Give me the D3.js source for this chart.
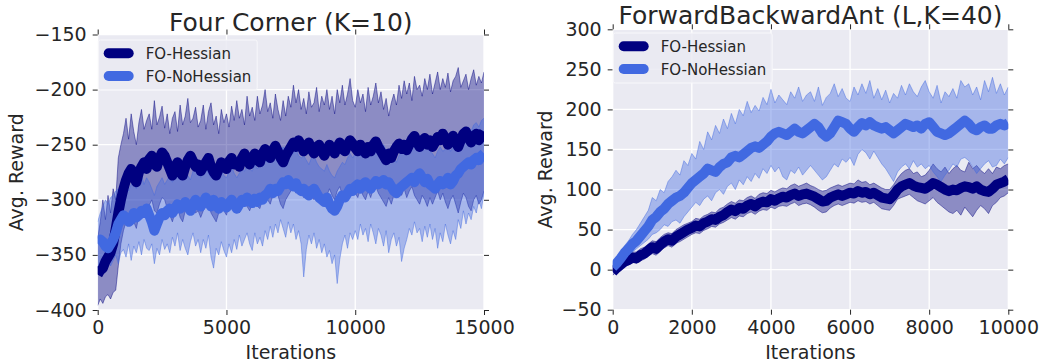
<!DOCTYPE html>
<html>
<head>
<meta charset="utf-8">
<script src="https://cdn.jsdelivr.net/npm/d3@7/dist/d3.min.js"></script>
<style>
  body { margin: 0; background: #ffffff; }
  text { font-family: "DejaVu Sans", sans-serif; fill: #262626; }
</style>
</head>
<body>
<div class="chart"></div>
<script>
// series names
var seriesNames = ["FO-Hessian", "FO-NoHessian"];

// Four Corner (K=10): one sample every 100 iterations, 0..15000
var leftIters = d3.range(0, 15001, 100);
var leftHessMean = [
  -368,-364,-362,-356,-352,-348,-340,-326,-312,-300,
  -290,-282,-276,-272,-280,-284,-275,-270,-266,-272,
  -263,-260,-268,-270,-262,-257,-260,-266,-272,-278,
  -270,-266,-275,-278,-270,-264,-260,-265,-270,-268,
  -274,-270,-266,-262,-270,-275,-278,-272,-266,-270,
  -272,-265,-262,-268,-266,-270,-262,-258,-264,-268,
  -262,-258,-264,-266,-258,-254,-260,-262,-255,-251,
  -256,-262,-266,-260,-256,-252,-248,-252,-246,-250,
  -256,-252,-248,-254,-258,-252,-250,-256,-260,-255,
  -250,-254,-258,-252,-248,-254,-256,-250,-246,-249,
  -253,-256,-250,-254,-258,-252,-256,-250,-247,-252,
  -256,-260,-264,-258,-262,-256,-252,-249,-254,-250,
  -255,-250,-245,-242,-248,-252,-246,-244,-250,-246,
  -252,-248,-243,-246,-240,-244,-250,-246,-242,-248,
  -252,-246,-240,-238,-244,-248,-242,-240,-246,-242,
  -238];
var leftHessUpper = [
  -335,-320,-300,-318,-296,-312,-290,-300,-262,-250,
  -240,-226,-245,-222,-238,-250,-230,-218,-236,-228,
  -222,-236,-210,-232,-225,-215,-235,-222,-240,-226,
  -220,-238,-214,-232,-224,-208,-230,-226,-216,-234,
  -228,-214,-236,-220,-212,-232,-224,-240,-218,-230,
  -222,-234,-215,-228,-210,-226,-218,-232,-206,-224,
  -216,-228,-206,-222,-214,-200,-220,-212,-226,-204,
  -218,-228,-210,-224,-206,-216,-196,-212,-200,-218,
  -208,-222,-202,-216,-212,-198,-220,-206,-214,-200,
  -218,-206,-222,-200,-212,-196,-214,-204,-190,-210,
  -216,-200,-212,-204,-220,-198,-214,-206,-194,-212,
  -202,-218,-208,-224,-212,-204,-214,-196,-208,-192,
  -204,-194,-210,-188,-200,-196,-206,-190,-200,-186,
  -204,-194,-184,-200,-190,-198,-185,-202,-192,-188,
  -180,-198,-192,-186,-200,-190,-182,-196,-188,-194,
  -184];
var leftHessLower = [
  -396,-390,-394,-388,-386,-390,-384,-382,-360,-340,
  -328,-320,-316,-312,-320,-326,-315,-310,-306,-314,
  -305,-300,-310,-312,-304,-298,-300,-308,-314,-320,
  -312,-306,-316,-320,-310,-304,-300,-306,-312,-310,
  -316,-310,-306,-302,-312,-316,-320,-312,-306,-310,
  -314,-305,-302,-310,-306,-312,-302,-298,-306,-310,
  -304,-298,-306,-308,-298,-294,-300,-304,-296,-292,
  -296,-304,-308,-300,-296,-292,-288,-294,-286,-290,
  -298,-292,-288,-296,-300,-292,-290,-298,-302,-296,
  -290,-296,-300,-292,-288,-296,-298,-290,-286,-290,
  -294,-298,-290,-296,-300,-292,-298,-290,-288,-294,
  -298,-302,-306,-298,-304,-296,-292,-290,-296,-290,
  -298,-292,-288,-296,-300,-304,-296,-300,-306,-298,
  -304,-298,-292,-300,-294,-302,-308,-300,-296,-304,
  -312,-302,-294,-298,-306,-310,-300,-296,-304,-300,
  -292];
var leftNoMean = [
  -340,-336,-338,-342,-344,-340,-336,-330,-322,-318,
  -314,-316,-320,-318,-312,-316,-314,-310,-312,-308,
  -314,-320,-328,-322,-316,-312,-314,-310,-308,-312,
  -308,-304,-308,-306,-302,-306,-310,-304,-300,-305,
  -306,-302,-298,-302,-306,-300,-304,-308,-302,-305,
  -307,-303,-300,-304,-308,-304,-300,-302,-298,-301,
  -303,-299,-302,-298,-300,-296,-294,-290,-294,-290,
  -292,-288,-284,-286,-282,-286,-288,-285,-290,-292,
  -290,-294,-296,-292,-290,-294,-298,-300,-302,-298,
  -304,-308,-310,-306,-300,-296,-298,-294,-290,-292,
  -288,-286,-290,-286,-284,-288,-290,-286,-283,-286,
  -284,-282,-286,-284,-288,-292,-294,-290,-288,-286,
  -284,-282,-280,-284,-279,-276,-280,-284,-281,-286,
  -288,-290,-286,-283,-286,-284,-280,-286,-283,-278,
  -276,-272,-270,-268,-266,-268,-264,-262,-264,-260,
  -258];
var leftNoUpper = [
  -320,-312,-306,-300,-304,-298,-296,-292,-290,-294,
  -288,-284,-292,-286,-282,-290,-284,-278,-286,-280,
  -284,-290,-296,-288,-284,-280,-286,-282,-278,-284,
  -278,-274,-280,-276,-272,-278,-282,-274,-270,-276,
  -280,-274,-270,-276,-280,-272,-276,-282,-274,-278,
  -280,-274,-270,-276,-280,-276,-272,-274,-268,-272,
  -274,-268,-272,-268,-270,-264,-266,-260,-264,-258,
  -262,-256,-252,-256,-250,-256,-258,-254,-260,-262,
  -260,-264,-268,-262,-260,-266,-270,-272,-274,-268,
  -274,-278,-280,-274,-270,-266,-268,-262,-258,-262,
  -258,-254,-260,-256,-252,-258,-260,-254,-252,-256,
  -252,-250,-256,-254,-258,-262,-266,-260,-256,-254,
  -252,-250,-248,-252,-246,-244,-248,-254,-250,-256,
  -258,-262,-256,-252,-256,-254,-250,-256,-252,-246,
  -244,-240,-238,-236,-234,-238,-232,-230,-234,-228,
  -226];
var leftNoLower = [
  -362,-356,-366,-358,-352,-360,-355,-350,-358,-348,
  -345,-352,-340,-355,-342,-348,-338,-350,-336,-344,
  -346,-340,-358,-344,-350,-336,-345,-340,-348,-334,
  -342,-330,-346,-336,-344,-350,-338,-330,-342,-336,
  -348,-336,-344,-332,-352,-362,-344,-350,-338,-346,
  -352,-340,-348,-336,-345,-332,-342,-336,-330,-340,
  -346,-330,-340,-334,-342,-328,-336,-324,-334,-322,
  -330,-318,-326,-334,-320,-330,-322,-336,-328,-340,
  -370,-345,-332,-340,-330,-344,-336,-348,-340,-352,
  -346,-358,-350,-376,-354,-340,-332,-344,-330,-336,
  -328,-336,-322,-332,-326,-338,-322,-330,-340,-326,
  -332,-342,-328,-348,-336,-330,-342,-334,-356,-344,
  -336,-326,-332,-320,-330,-326,-338,-324,-334,-322,
  -336,-326,-344,-330,-338,-322,-332,-340,-328,-336,
  -318,-326,-310,-322,-312,-318,-306,-312,-300,-308,
  -294];
var leftXTicks = [0, 5000, 10000, 15000];
var leftYTicks = [-400, -350, -300, -250, -200, -150];

// ForwardBackwardAnt (L,K=40): one sample every 100 iterations, 0..10000
var rightIters = d3.range(0, 10001, 100);
var rightHessMean = [
  -3,2,6,10,12,15,14,18,20,24,
  28,26,31,35,38,36,41,44,47,50,
  52,55,54,58,60,63,62,66,68,72,
  75,73,77,76,80,82,79,83,85,84,
  88,86,89,91,90,93,95,92,94,95,
  93,91,88,85,86,90,92,94,92,94,
  96,95,98,96,97,94,96,93,90,89,
  88,93,100,104,106,108,105,103,102,101,
  104,108,106,103,100,98,100,99,102,104,
  103,101,104,100,98,97,101,106,108,110,
  113];
var rightHessUpper = [
  3,8,13,16,19,22,22,26,28,32,
  36,35,40,44,46,45,50,53,56,58,
  60,64,63,67,69,72,71,76,78,82,
  85,83,87,86,90,92,89,94,96,95,
  99,97,100,102,101,105,107,104,106,108,
  105,103,100,98,99,102,104,106,104,106,
  108,107,112,109,110,106,108,105,102,100,
  100,106,114,120,124,126,120,122,116,118,
  124,132,126,122,128,120,126,130,124,122,
  134,126,130,124,120,126,120,128,126,130,
  132];
var rightHessLower = [
  -7,-3,0,4,6,9,8,11,13,17,
  20,18,23,27,30,28,33,35,38,41,
  44,46,45,49,51,54,53,57,59,62,
  65,63,67,66,70,72,69,73,75,74,
  78,76,79,80,79,82,84,80,82,83,
  81,78,74,71,72,77,80,82,80,82,
  84,83,86,84,85,82,84,80,76,75,
  74,80,88,90,92,94,90,86,84,82,
  86,90,84,80,76,72,70,74,68,78,
  72,66,74,80,76,70,80,84,90,92,
  96];
var rightNoMean = [
  3,8,14,21,26,32,36,42,48,54,
  62,66,72,76,82,86,90,92,96,102,
  108,112,116,120,126,124,122,128,132,134,
  140,142,140,144,148,152,154,152,156,160,
  166,170,172,170,168,172,176,172,170,174,
  178,182,178,170,166,170,178,186,184,182,
  176,172,178,183,180,184,180,178,176,178,
  174,170,174,178,182,180,178,180,176,182,
  184,178,172,170,168,170,174,178,182,186,
  182,176,174,178,180,176,176,180,182,180,
  183];
var rightNoUpper = [
  8,14,22,30,36,44,50,58,66,74,
  90,86,100,96,110,116,124,118,136,130,
  145,138,160,150,172,162,180,170,188,176,
  195,182,200,192,210,196,205,198,215,206,
  225,208,218,212,206,222,214,228,210,218,
  222,210,228,205,215,220,232,216,226,214,
  210,228,218,232,220,236,214,226,212,224,
  208,220,214,230,218,232,222,216,228,236,
  222,214,230,208,222,216,226,214,236,228,
  232,218,228,212,236,222,240,220,232,218,
  228];
var rightNoLower = [
  -2,3,8,13,18,22,26,30,34,38,
  44,46,50,56,54,60,62,58,66,72,
  78,84,80,88,92,86,96,100,94,104,
  108,100,112,106,116,110,120,114,126,120,
  130,122,128,116,112,124,120,128,118,124,
  130,124,118,112,116,124,132,128,138,134,
  140,130,144,150,146,138,148,140,132,126,
  118,110,122,128,132,126,136,128,132,126,
  130,122,116,110,118,124,132,128,138,140,
  136,128,120,126,132,136,128,130,138,132,
  140];
var rightXTicks = [0, 2000, 4000, 6000, 8000, 10000];
var rightYTicks = [-50, 0, 50, 100, 150, 200, 250, 300];

var svgWidth = 1041;
var svgHeight = 364;
var colors = ["#000080", "#4169E1"];

var svg = d3.select(".chart")
  .append("svg")
  .attr("width", svgWidth)
  .attr("height", svgHeight);

function drawPanel(p) {
  var x = d3.scaleLinear().domain(p.xDomain).range([p.left, p.right]);
  var y = d3.scaleLinear().domain(p.yDomain).range([p.bottom, p.top]);
  var g = svg.append("g");

  // background + white grid
  g.append("rect")
    .attr("x", p.left).attr("y", p.top)
    .attr("width", p.right - p.left).attr("height", p.bottom - p.top)
    .attr("fill", "#EAEAF2");
  g.selectAll(".gx").data(p.xTicks).enter().append("line")
    .attr("x1", d => x(d)).attr("x2", d => x(d))
    .attr("y1", p.top).attr("y2", p.bottom)
    .attr("stroke", "#ffffff").attr("stroke-width", 1.3);
  g.selectAll(".gy").data(p.yTicks).enter().append("line")
    .attr("x1", p.left).attr("x2", p.right)
    .attr("y1", d => y(d)).attr("y2", d => y(d))
    .attr("stroke", "#ffffff").attr("stroke-width", 1.3);

  svg.append("clipPath").attr("id", "clip-" + p.id)
    .append("rect")
    .attr("x", p.left).attr("y", p.top)
    .attr("width", p.right - p.left).attr("height", p.bottom - p.top);
  var plot = g.append("g").attr("clip-path", "url(#clip-" + p.id + ")");

  // shaded bands with thin edges
  p.series.forEach(function(s, i) {
    var rows = p.iters.map((it, k) => ({ it: it, lo: s.lower[k], hi: s.upper[k] }));
    var area = d3.area().x(d => x(d.it)).y0(d => y(d.lo)).y1(d => y(d.hi));
    plot.append("path").datum(rows)
      .attr("d", area)
      .attr("fill", colors[i]).attr("fill-opacity", 0.4);
    ["lo", "hi"].forEach(function(key) {
      plot.append("path").datum(rows)
        .attr("d", d3.line().x(d => x(d.it)).y(d => y(d[key])))
        .attr("fill", "none").attr("stroke", colors[i])
        .attr("stroke-opacity", 0.45).attr("stroke-width", 1);
    });
  });

  // thick mean curves
  p.series.forEach(function(s, i) {
    var line = d3.line().x((d, k) => x(p.iters[k])).y(d => y(d));
    plot.append("path").datum(s.mean)
      .attr("d", line)
      .attr("fill", "none").attr("stroke", colors[i])
      .attr("stroke-width", 10).attr("stroke-linejoin", "round");
  });

  // ticks on all four sides
  var axes = [
    { ax: d3.axisLeft(y).tickValues(p.yTicks), t: `translate(${p.left},0)` },
    { ax: d3.axisRight(y).tickValues(p.yTicks).tickFormat(""), t: `translate(${p.right},0)` },
    { ax: d3.axisBottom(x).tickValues(p.xTicks).tickFormat(d3.format("d")), t: `translate(0,${p.bottom})` },
    { ax: d3.axisTop(x).tickValues(p.xTicks).tickFormat(""), t: `translate(0,${p.top})` }
  ];
  axes.forEach(function(a) {
    var ag = g.append("g")
      .attr("transform", a.t)
      .call(a.ax.tickSize(5).tickPadding(6));
    ag.select(".domain").remove();
    ag.selectAll("line").attr("stroke", "#262626");
    ag.selectAll("text")
      .attr("font-family", "DejaVu Sans")
      .attr("font-size", 19)
      .attr("fill", "#262626");
  });

  // titles and labels
  g.append("text")
    .attr("x", (p.left + p.right) / 2).attr("y", p.titleY)
    .attr("text-anchor", "middle").attr("font-size", 25)
    .text(p.title);
  g.append("text")
    .attr("x", (p.left + p.right) / 2).attr("y", 359)
    .attr("text-anchor", "middle").attr("font-size", 19)
    .text("Iterations");
  g.append("text")
    .attr("transform", `translate(${p.yLabelX},${(p.top + p.bottom) / 2}) rotate(-90)`)
    .attr("text-anchor", "middle").attr("font-size", 19)
    .text("Avg. Reward");

  // legend
  var lg = g.append("g").attr("transform", `translate(${p.left},${p.legendTop})`);
  lg.append("rect")
    .attr("x", 0.5).attr("y", 0)
    .attr("width", 159).attr("height", 50).attr("rx", 2)
    .attr("fill", "#EAEAF2").attr("fill-opacity", 0.85)
    .attr("stroke", "#f8f8fb").attr("stroke-width", 1);
  seriesNames.forEach(function(name, i) {
    var yy = 13.3 + i * 22.7;
    lg.append("line")
      .attr("x1", 11).attr("x2", 31).attr("y1", yy).attr("y2", yy)
      .attr("stroke", colors[i]).attr("stroke-width", 10)
      .attr("stroke-linecap", "round");
    lg.append("text")
      .attr("x", 48).attr("y", yy + 5.5)
      .attr("font-size", 15).attr("fill", "#333333")
      .text(name);
  });
}

drawPanel({
  id: "left", title: "Four Corner (K=10)",
  left: 97.7, right: 484, top: 34.5, bottom: 310,
  xDomain: [0, 15000], yDomain: [-400, -150],
  xTicks: leftXTicks, yTicks: leftYTicks,
  titleY: 31, yLabelX: 23, legendTop: 40,
  iters: leftIters,
  series: [
    { mean: leftHessMean, lower: leftHessLower, upper: leftHessUpper },
    { mean: leftNoMean, lower: leftNoLower, upper: leftNoUpper }
  ]
});

drawPanel({
  id: "right", title: "ForwardBackwardAnt (L,K=40)",
  left: 612.7, right: 1008.3, top: 29.3, bottom: 309.7,
  xDomain: [0, 10000], yDomain: [-50, 300],
  xTicks: rightXTicks, yTicks: rightYTicks,
  titleY: 24, yLabelX: 552, legendTop: 33,
  iters: rightIters,
  series: [
    { mean: rightHessMean, lower: rightHessLower, upper: rightHessUpper },
    { mean: rightNoMean, lower: rightNoLower, upper: rightNoUpper }
  ]
});
</script>
</body>
</html>
